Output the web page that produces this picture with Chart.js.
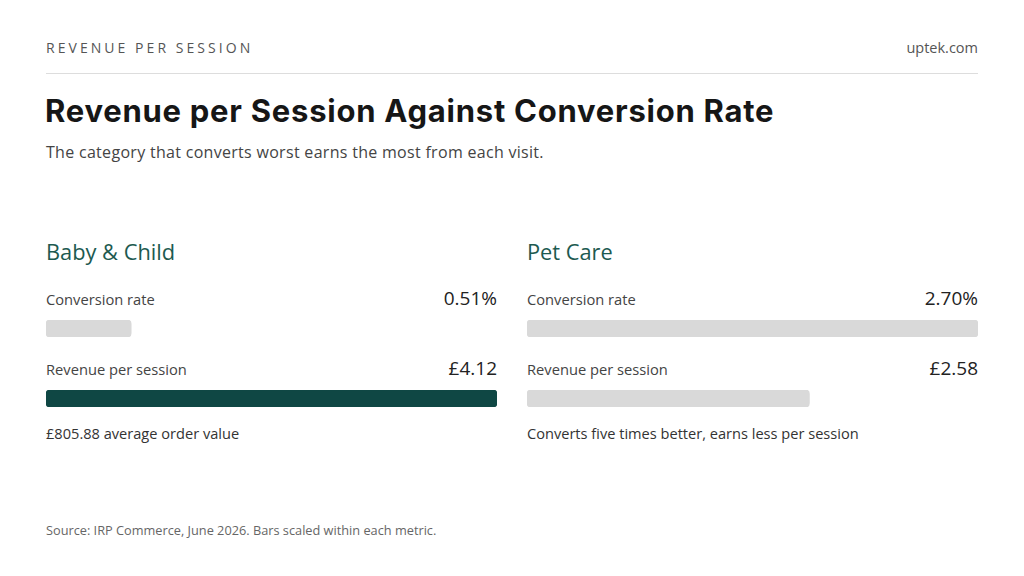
<!DOCTYPE html>
<html><head><meta charset="utf-8">
<script src="https://cdn.jsdelivr.net/npm/chart.js@4"></script>
<style>
html,body{margin:0;padding:0;background:#fff;}
body{width:1024px;height:576px;position:relative;overflow:hidden;font-family:"Open Sans",sans-serif;color:#333;}
.abs{position:absolute;white-space:nowrap;}
#kicker{left:46px;top:38px;font-size:14px;letter-spacing:3.05px;color:#555;}
#brand{right:46px;top:38px;font-size:14.5px;color:#555;}
#rule{left:46px;top:73px;width:932px;height:1px;background:#ddd;}
#title{left:45px;top:92px;font-family:Inter,sans-serif;font-weight:700;font-size:31px;color:#161616;letter-spacing:0.75px;}
#sub{left:46px;top:141px;font-size:16px;letter-spacing:0.3px;color:#444;}
.panel{position:absolute;top:236px;width:451px;height:220px;}
.cat{position:absolute;left:0;top:1px;font-size:21.8px;color:#1d5a50;}
.lbl{position:absolute;left:0;font-size:14.7px;color:#444;}
.val{position:absolute;right:0;font-size:19px;color:#222;}
.bar{position:absolute;left:0;width:451px;height:17px;}
.note{position:absolute;left:0;top:187px;font-size:14.6px;color:#333;}
#source{left:46px;top:521px;font-size:12.75px;color:#666;}
</style></head>
<body>
<div class="abs" id="kicker">REVENUE PER SESSION</div>
<div class="abs" id="brand">uptek.com</div>
<div class="abs" id="rule"></div>
<div class="abs" id="title">Revenue per Session Against Conversion Rate</div>
<div class="abs" id="sub">The category that converts worst earns the most from each visit.</div>
<div id="panels"></div>
<div class="abs" id="source">Source: IRP Commerce, June 2026. Bars scaled within each metric.</div>
<script>
const categories = ['Baby & Child', 'Pet Care'];
const conversionRate = [0.51, 2.70];
const revenuePerSession = [4.12, 2.58];
const conversionLabels = ['0.51%', '2.70%'];
const revenueLabels = ['£4.12', '£2.58'];
const notes = ['£805.88 average order value', 'Converts five times better, earns less per session'];
const highlight = [{conv:false, rev:true}, {conv:false, rev:false}];

const GREY = '#d9d9d9', DARK = '#0f4744';
const panelLefts = [46, 527];
const host = document.getElementById('panels');

function makeBar(parent, top, value, max, color){
  const wrap = document.createElement('div');
  wrap.className = 'bar'; wrap.style.top = top + 'px';
  const c = document.createElement('canvas');
  wrap.appendChild(c); parent.appendChild(wrap);
  new Chart(c, {
    type: 'bar',
    data: { labels: [''], datasets: [{ data: [value], backgroundColor: color, borderRadius: 4, borderSkipped: false, barPercentage: 1, categoryPercentage: 1 }] },
    options: {
      indexAxis: 'y', responsive: true, maintainAspectRatio: false, animation: false,
      layout: { padding: 0 },
      plugins: { legend: { display: false }, tooltip: { enabled: false } },
      scales: {
        x: { display: false, min: 0, max: max },
        y: { display: false }
      }
    }
  });
}

const convMax = Math.max(...conversionRate);
const revMax = Math.max(...revenuePerSession);

categories.forEach((cat, i) => {
  const p = document.createElement('div');
  p.className = 'panel'; p.style.left = panelLefts[i] + 'px';
  p.innerHTML =
    `<div class="cat">${cat.replace('&','&amp;')}</div>` +
    `<div class="lbl" style="top:53px">Conversion rate</div>` +
    `<div class="val" style="top:49px">${conversionLabels[i]}</div>` +
    `<div class="lbl" style="top:123px">Revenue per session</div>` +
    `<div class="val" style="top:119px">${revenueLabels[i]}</div>` +
    `<div class="note">${notes[i]}</div>`;
  host.appendChild(p);
  makeBar(p, 84, conversionRate[i], convMax, highlight[i].conv ? DARK : GREY);
  makeBar(p, 154, revenuePerSession[i], revMax, highlight[i].rev ? DARK : GREY);
});
</script>
</body></html>
